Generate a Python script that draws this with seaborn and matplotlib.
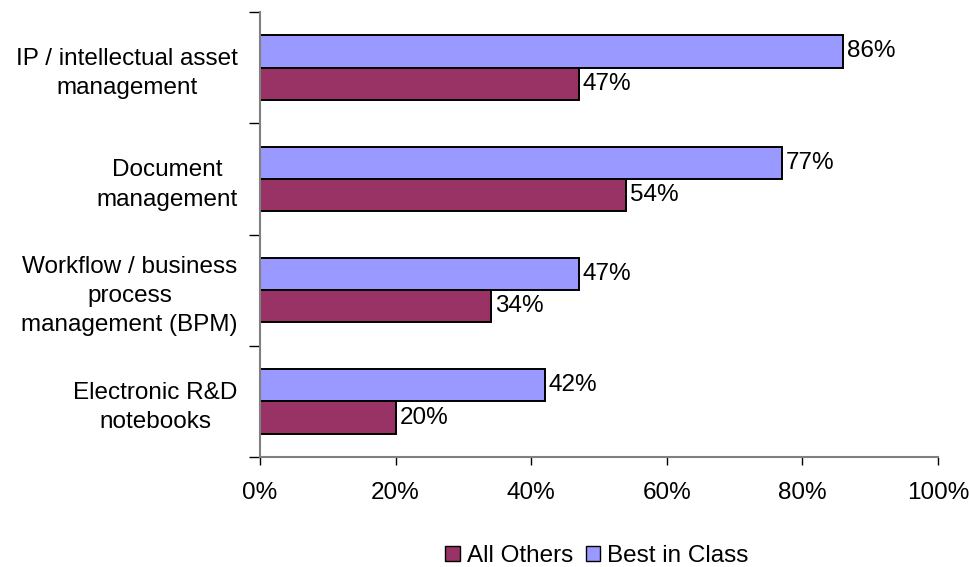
import matplotlib
matplotlib.use("Agg")
import matplotlib.pyplot as plt
import seaborn as sns
import pandas as pd
from matplotlib.patches import Patch

categories = ["IP / intellectual asset\nmanagement", "Document\nmanagement",
              "Workflow / business\nprocess\nmanagement (BPM)", "Electronic R&D\nnotebooks"]
best_in_class = [86, 77, 47, 42]
all_others = [47, 54, 34, 20]
x_ticks = [0, 20, 40, 60, 80, 100]
x_tick_labels = ["0%", "20%", "40%", "60%", "80%", "100%"]

sns.set_style("white")
plt.rcParams['font.family'] = ['Liberation Sans', 'DejaVu Sans']
plt.rcParams['text.color'] = 'black'
plt.rcParams['xtick.color'] = 'black'
plt.rcParams['ytick.color'] = 'black'

df = pd.DataFrame({
    "category": categories * 2,
    "value": best_in_class + all_others,
    "series": ["Best in Class"] * 4 + ["All Others"] * 4,
})
colors = {"Best in Class": "#9999FF", "All Others": "#993366"}
FS = 17.5

fig = plt.figure(figsize=(9.69, 5.67), dpi=100)
ax = fig.add_axes([260/969, 1 - 457/567, (938-260)/969, (457-12)/567])
sns.barplot(data=df, y="category", x="value", hue="series",
            hue_order=["Best in Class", "All Others"], palette=colors,
            saturation=1, orient="h", width=0.58, edgecolor="black", linewidth=1.4,
            ax=ax, legend=False)

for cont in ax.containers:
    ax.bar_label(cont, labels=[f"{int(v)}%" for v in cont.datavalues],
                 padding=3, fontsize=FS, color="black")

ax.set_xlim(0, 100)
ax.set_ylim(3.5, -0.5)
ax.set_xticks(x_ticks)
ax.set_xticklabels(x_tick_labels, fontsize=FS)
ax.set_yticks([0, 1, 2, 3])
ax.set_yticklabels(categories, fontsize=FS, multialignment="center", linespacing=1.42)
ax.tick_params(axis="y", length=0, pad=16)
ax.tick_params(axis="x", length=6, width=1, color="black", direction="out", pad=12, bottom=True)
ax.set_yticks([-0.5, 0.5, 1.5, 2.5, 3.5], minor=True)
ax.tick_params(axis="y", which="minor", length=8, width=1, color="black", direction="out", left=True)
ax.set_xlabel("")
ax.set_ylabel("")
for s in ["top", "right"]:
    ax.spines[s].set_visible(False)
ax.spines["left"].set_color("#808080")
ax.spines["left"].set_linewidth(1.5)
ax.spines["bottom"].set_color("#808080")
ax.spines["bottom"].set_linewidth(1.5)

handles = [Patch(facecolor="#993366", edgecolor="black", label="All Others"),
           Patch(facecolor="#9999FF", edgecolor="black", label="Best in Class")]
fig.legend(handles=handles, loc="center", bbox_to_anchor=(597/969, 1 - 556/567),
           ncol=2, frameon=False, fontsize=FS, handlelength=0.6, handleheight=0.55,
           handletextpad=0.3, columnspacing=0.5, borderpad=0)

fig.savefig("out.png", dpi=100)
